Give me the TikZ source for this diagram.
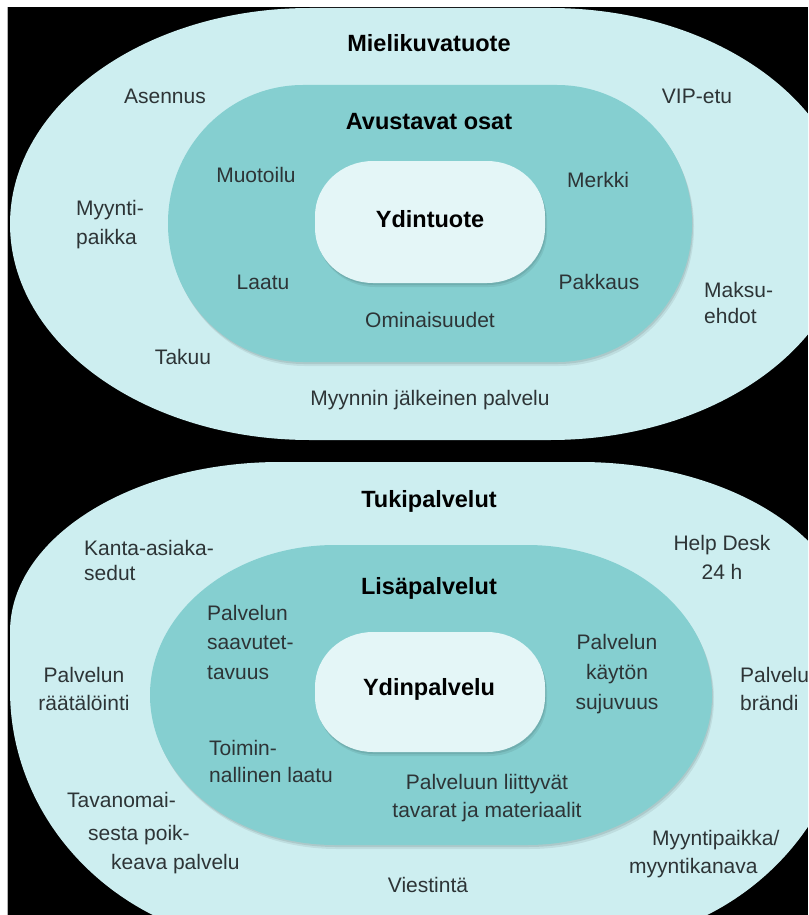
\documentclass[tikz,border=0pt]{standalone}
\usepackage{fontspec}
\setmainfont{Liberation Sans}
\definecolor{outerc}{RGB}{205,238,240}
\definecolor{tealc}{RGB}{133,207,208}
\definecolor{corec}{RGB}{228,246,247}
\definecolor{txt}{RGB}{45,52,54}
\newcommand{\roundblob}[7]{%
 ({#1+#5},#2) -- ({#3-#5},#2)
 .. controls ({#3-#5+0.5523*#5},#2) and (#3,{#2+#6-0.5523*#6}) .. (#3,{#2+#6})
 -- (#3,{#4-#7})
 .. controls (#3,{#4-#7+0.5523*#7}) and ({#3-#5+0.5523*#5},#4) .. ({#3-#5},#4)
 -- ({#1+#5},#4)
 .. controls ({#1+#5-0.5523*#5},#4) and (#1,{#4-#7+0.5523*#7}) .. (#1,{#4-#7})
 -- (#1,{#2+#6})
 .. controls (#1,{#2+#6-0.5523*#6}) and ({#1+#5-0.5523*#5},#2) .. cycle}
\tikzset{
  lbl/.style={font=\fontsize{21}{29}\selectfont, text=txt, inner sep=0pt, anchor=base},
  lblw/.style={lbl, anchor=base west},
  hd/.style={font=\fontsize{23.5}{29}\selectfont\bfseries, text=black, inner sep=0pt, anchor=base},
  outerfill/.style={fill=outerc},
  tealfill/.style={fill=tealc},
  corefill/.style={fill=corec},
  shade1/.style={fill=black, opacity=0.07},
  shade2/.style={fill=black, opacity=0.09},
}
\begin{document}
\begin{tikzpicture}[x=1pt,y=-1pt]
\useasboundingbox (0,0) rectangle (808,915);
\clip (0,0) rectangle (808,915);
% frame and background
\fill[white] (0,0) rectangle (808,915);
\fill[black] (7,7) rectangle (808,915);
\draw[gray!60, line width=1pt] (7.5,7) -- (7.5,915);

% ===== top diagram =====
\fill[outerfill] \roundblob{10}{8}{850}{440}{300}{216}{216};
\begin{scope}[shift={(2,4)}]
  \fill[shade1] \roundblob{168}{85}{692}{362}{135}{138}{138};
\end{scope}
\begin{scope}[shift={(1,2)}]
  \fill[shade2] \roundblob{168}{85}{692}{362}{135}{138}{138};
\end{scope}
\fill[tealfill] \roundblob{168}{85}{692}{362}{135}{138}{138};
\begin{scope}[shift={(2,4)}]
  \fill[shade1] \roundblob{315}{161}{545}{283}{58}{55}{55};
\end{scope}
\begin{scope}[shift={(1,2)}]
  \fill[shade2] \roundblob{315}{161}{545}{283}{58}{55}{55};
\end{scope}
\fill[corefill] \roundblob{315}{161}{545}{283}{58}{55}{55};

\node[hd] (mieli) at (429,52) {Mielikuvatuote};
\node[lbl] (asennus) at (165,104) {Asennus};
\node[lbl] (vip) at (697,104) {VIP-etu};
\node[hd] (avust) at (429,130) {Avustavat osat};
\node[lbl] (muot) at (256,182) {Muotoilu};
\node[lbl] (merkki) at (598,187) {Merkki};
\node[hd] (ydint) at (430,227) {Ydintuote};
\node[lblw] (myy1) at (76,215) {Myynti-};
\node[lblw] (myy2) at (76,244) {paikka};
\node[lbl] (laatu) at (263,289) {Laatu};
\node[lbl] (pakkaus) at (599,289) {Pakkaus};
\node[lblw] (maksu1) at (704,297) {Maksu-};
\node[lblw] (maksu2) at (704,323) {ehdot};
\node[lbl] (omin) at (430,327) {Ominaisuudet};
\node[lbl] (takuu) at (183,364) {Takuu};
\node[lbl] (myynnin) at (430,405) {Myynnin jälkeinen palvelu};

% ===== bottom diagram =====
\fill[outerfill] \roundblob{10}{462}{850}{945}{270}{170}{255};
\begin{scope}[shift={(2,4)}]
  \fill[shade1] \roundblob{150}{545}{712}{845}{185}{150}{150};
\end{scope}
\begin{scope}[shift={(1,2)}]
  \fill[shade2] \roundblob{150}{545}{712}{845}{185}{150}{150};
\end{scope}
\fill[tealfill] \roundblob{150}{545}{712}{845}{185}{150}{150};
\begin{scope}[shift={(2,4)}]
  \fill[shade1] \roundblob{315}{632}{545}{752}{58}{55}{55};
\end{scope}
\begin{scope}[shift={(1,2)}]
  \fill[shade2] \roundblob{315}{632}{545}{752}{58}{55}{55};
\end{scope}
\fill[corefill] \roundblob{315}{632}{545}{752}{58}{55}{55};

\node[hd] (tuki) at (429,507) {Tukipalvelut};
\node[lblw] (kanta1) at (84,555) {Kanta-asiaka-};
\node[lblw] (kanta2) at (84,580) {sedut};
\node[lbl] (help1) at (722,550) {Help Desk};
\node[lbl] (help2) at (722,579) {24 h};
\node[hd] (lisa) at (429,594) {Lisäpalvelut};
\node[lblw] (pk1) at (207,620) {Palvelun};
\node[lblw] (pk2) at (207,649) {saavutet-};
\node[lblw] (pk3) at (207,679) {tavuus};
\node[lbl] (pr1) at (617,649) {Palvelun};
\node[lbl] (pr2) at (617,679) {käytön};
\node[lbl] (pr3) at (617,709) {sujuvuus};
\node[hd] (ydinp) at (429,695) {Ydinpalvelu};
\node[lbl] (prl1) at (84,682) {Palvelun};
\node[lbl] (prl2) at (84,710) {räätälöinti};
\node[lblw] (pb1) at (740,682) {Palvelu};
\node[lblw] (pb2) at (740,710) {brändi};
\node[lblw] (toim1) at (209,755) {Toimin-};
\node[lblw] (toim2) at (209,782) {nallinen laatu};
\node[lbl] (pl1) at (487,789) {Palveluun liittyvät};
\node[lbl] (pl2) at (487,817) {tavarat ja materiaalit};
\node[lblw] (tav1) at (67,807) {Tavanomai-};
\node[lblw] (tav2) at (88,840) {sesta poik-};
\node[lblw] (tav3) at (111,869) {keava palvelu};
\node[lblw] (myk1) at (652,845) {Myyntipaikka/};
\node[lblw] (myk2) at (629,873) {myyntikanava};
\node[lbl] (viest) at (428,892) {Viestintä};
\end{tikzpicture}
\end{document}
